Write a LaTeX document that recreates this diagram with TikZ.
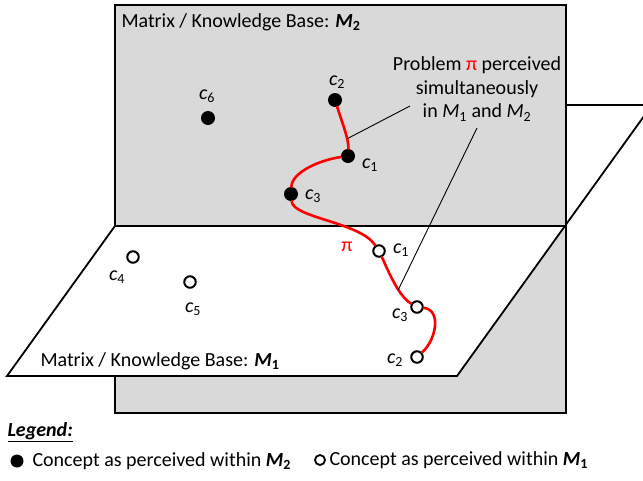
\documentclass[tikz,border=0pt]{standalone}
\usepackage{fontspec}
\setmainfont{Carlito}
\usepackage{xcolor}
\usepackage{tikz}
\usetikzlibrary{positioning}
\newcommand\cname[1]{\textit{c}\textsubscript{#1}}
\newcommand\mname[1]{\textit{M}\textsubscript{#1}}

\begin{document}
\begin{tikzpicture}[x=1pt,y=-1pt,font=\fontsize{20}{23.5}\selectfont]
      \tikzstyle{wall}=[draw,line width=1.8pt,fill=black!15]
      \tikzstyle{floor}=[draw,line width=1.8pt,fill=white]
      \tikzstyle{inm2}=[circle,fill=black,inner sep=0pt,minimum size=14pt]
      \tikzstyle{inm1}=[circle,draw,line width=2pt,fill=white,inner sep=0pt,minimum size=11.5pt]
      \tikzstyle{clabel}=[inner sep=1pt,font=\fontsize{20}{22}\selectfont]
      \tikzstyle{pipath}=[red,line width=2.6pt,line cap=round]
      \tikzstyle{callout}=[line width=0.9pt]
      \clip (0,0) rectangle (643,480);
      % the two planes
      \draw[wall] (115,5) rectangle (566,413);
      \draw[floor] (7,376) -- (457,376) -- (652,105) -- (202,105) -- cycle;
      \draw[wall] (115,5) rectangle (566,226);
      \node[anchor=west] (m2) at (118,22) {Matrix / Knowledge Base: \textbf{\mname{2}}};
      \node[anchor=west] (m1) at (37,361) {Matrix / Knowledge Base: \textbf{\mname{1}}};
      % concepts seen in M2
      \node[inm2] (b6) at (208,118) {};
      \node[inm2] (b2) at (335,100) {};
      \node[inm2] (b1) at (348,156) {};
      \node[inm2] (b3) at (291,194) {};
      \node[clabel] (lb6) at (207,96) {\cname{6}};
      \node[clabel] (lb2) at (337,82) {\cname{2}};
      \node[clabel] (lb1) at (370,165) {\cname{1}};
      \node[clabel] (lb3) at (313,196) {\cname{3}};
      % concepts seen in M1
      \node[inm1] (w4) at (133,257) {};
      \node[inm1] (w5) at (190,282) {};
      \node[inm1] (w1) at (379,251) {};
      \node[inm1] (w3) at (417,307) {};
      \node[inm1] (w2) at (417,357) {};
      \node[clabel] (lw4) at (117,277) {\cname{4}};
      \node[clabel] (lw5) at (193,309) {\cname{5}};
      \node[clabel] (lw1) at (401,250) {\cname{1}};
      \node[clabel] (lw3) at (400,315) {\cname{3}};
      \node[clabel] (lw2) at (395,360) {\cname{2}};
      % the problem pi
      \draw[pipath] (b2) .. controls (342,122) and (349,140) .. (b1) coordinate[pos=0.7] (k1)
        (b1) .. controls (320,160) and (292,172) .. (b3)
        (b3) .. controls (293,218) and (360,222) .. (w1)
        (w1) .. controls (387,268) and (398,296) .. (w3) coordinate[pos=0.65] (k2)
        (w3) .. controls (442,310) and (436,340) .. (w2);
      \node[red,inner sep=0pt] (pilbl) at (347,247) {π};
      \node[align=center] (note) at (477,89) {Problem {\color{red}π} perceived\\simultaneously\\in \mname{1} and \mname{2}};
      \coordinate (t1) at (410,106);
      \coordinate (t2) at (477,128);
      \draw[callout] (t1) -- (k1);
      \draw[callout] (t2) -- (k2);
      % legend
      \node[anchor=west] (legend) at (4,432) {\textbf{\textit{\underline{Legend:}}}};
      \node[inm2,minimum size=13pt] (keyb) at (17,461) {};
      \node[anchor=west] (keybt) at (29,461) {Concept as perceived within \textbf{\mname{2}}};
      \node[inm1,minimum size=10pt,line width=1.8pt] (keyw) at (320,460) {};
      \node[anchor=west] (keywt) at (326,460) {Concept as perceived within \textbf{\mname{1}}};
\end{tikzpicture}
\end{document}
